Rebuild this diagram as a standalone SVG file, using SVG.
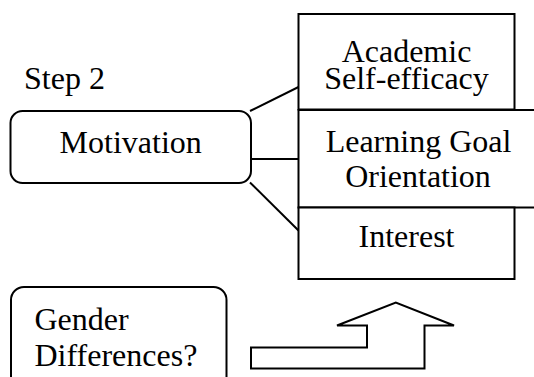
<svg xmlns="http://www.w3.org/2000/svg" width="534" height="377" viewBox="0 0 534 377">
<style>
.box{fill:#fff;stroke:#000;stroke-width:2}
.ln{fill:none;stroke:#000;stroke-width:2}
.t{font-family:'Liberation Serif','Times New Roman',serif;font-size:32px;fill:#000}
.c{text-anchor:middle}
</style>
<rect width="534" height="377" fill="#fff"/>
<g id="step-label"><text class="t" x="24" y="89">Step 2</text></g>
<g id="connectors">
<line class="ln" x1="250" y1="111" x2="298.5" y2="87"/>
<line class="ln" x1="251" y1="159" x2="298.5" y2="159"/>
<line class="ln" x1="250" y1="182.5" x2="298.5" y2="230.5"/>
</g>
<g id="self-efficacy">
<rect class="box" x="298.5" y="14" width="216" height="95.5"/>
<text class="t c" x="406.5" y="62">Academic</text>
<text class="t c" x="406.5" y="89">Self-efficacy</text>
</g>
<g id="learning-goal">
<rect class="box" x="298.5" y="110" width="242" height="97.5"/>
<text class="t c" x="418.5" y="152">Learning Goal</text>
<text class="t c" x="418" y="187">Orientation</text>
</g>
<g id="interest">
<rect class="box" x="298.5" y="207.5" width="216" height="71.5"/>
<text class="t c" x="406.5" y="246.5">Interest</text>
</g>
<g id="motivation">
<rect class="box" x="10.5" y="111" width="240.5" height="72" rx="12" ry="12"/>
<text class="t c" x="130.7" y="152.5">Motivation</text>
</g>
<g id="gender">
<rect class="box" x="11" y="287" width="215.5" height="110" rx="13" ry="13"/>
<text class="t" x="34.5" y="330">Gender</text>
<text class="t" x="34.5" y="366">Differences?</text>
</g>
<g id="arrow">
<polygon class="box" points="251,347.5 367,347.5 367,325.5 337,325.5 395.8,302.5 454,325.5 424.5,325.5 424.5,368.5 251,368.5"/>
</g>
</svg>
